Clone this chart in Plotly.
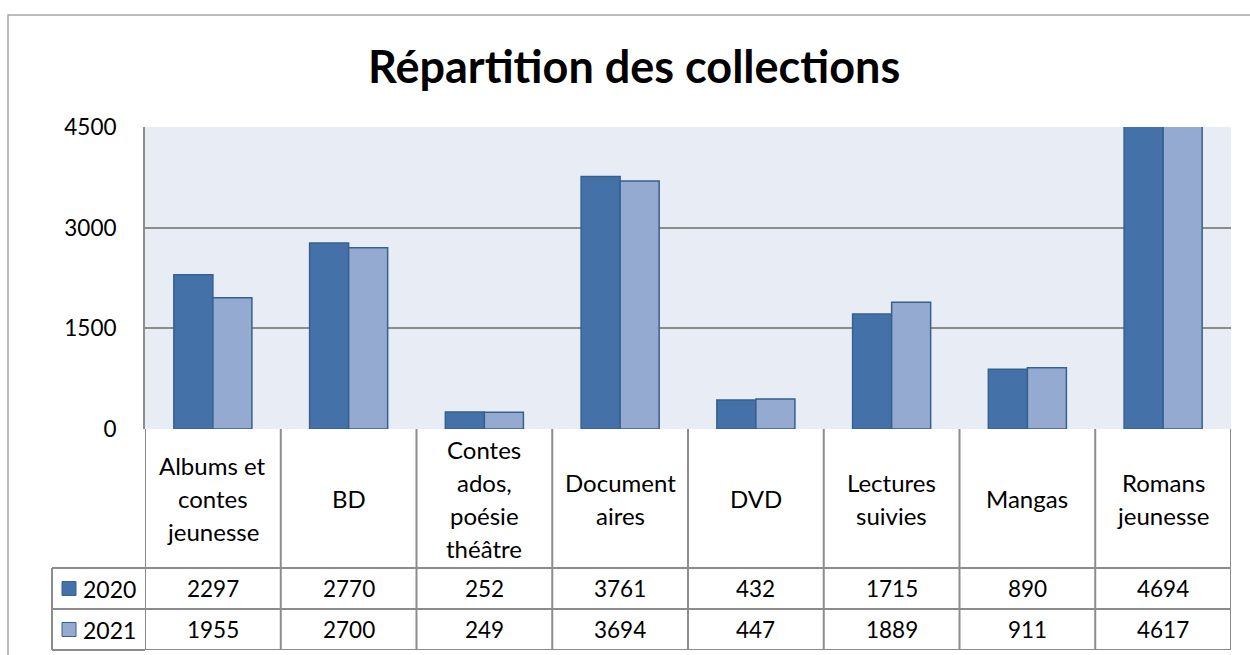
import plotly.graph_objects as go

# ---- data ----
categories = ["Albums et contes jeunesse", "BD", "Contes ados, poésie théâtre",
              "Documentaires", "DVD", "Lectures suivies", "Mangas", "Romans jeunesse"]
category_labels = [["Albums et", "contes", "jeunesse"], ["BD"],
                   ["Contes", "ados,", "poésie", "théâtre"], ["Document", "aires"],
                   ["DVD"], ["Lectures", "suivies"], ["Mangas"], ["Romans", "jeunesse"]]
series_names = ["2020", "2021"]
values_2020 = [2297, 2770, 252, 3761, 432, 1715, 890, 4694]
values_2021 = [1955, 2700, 249, 3694, 447, 1889, 911, 4617]
y_ticks = [0, 1500, 3000, 4500]
title_text = "Répartition des collections"

# ---- layout constants (pixels) ----
W, H = 1250, 655
PX0, PX1 = 145, 1231          # plot area left / right
PY_TOP, PY_BOT = 127, 429     # plot area top / bottom (from top of image)
T_BOT = 650                   # table bottom
ROW_EDGES = [0, 139, 180, 221]  # table rows, px below plot bottom
LEG_X0 = 52
FONT = "Lato"
GRID = "#8C8C8C"
C2020, C2021, EDGE = "#4472A8", "#95AAD0", "#36608F"
BG = "#E8EDF5"

def px(x):
    return x / W

def py(y):
    return (H - y) / H

fig = go.Figure()
colors = [C2020, C2021]
for name, vals, col in zip(series_names, [values_2020, values_2021], colors):
    fig.add_trace(go.Bar(x=categories, y=vals, name=name, marker_color=col,
                         marker_line_color=EDGE, marker_line_width=1.5,
                         showlegend=False, hoverinfo="x+y+name"))

# invisible trace to create the table subplot (x, y2)
fig.add_trace(go.Scatter(x=categories, y=[0] * len(categories), yaxis="y2",
                         mode="markers", marker_opacity=0, showlegend=False,
                         hoverinfo="skip"))

shapes = []
annotations = []

# plot background
shapes.append(dict(type="rect", xref="x domain", yref="y domain", x0=0, x1=1, y0=0, y1=1,
                   fillcolor=BG, line_width=0, layer="below"))
# outer chart border
shapes.append(dict(type="rect", xref="paper", yref="paper", x0=px(8), x1=1.2,
                   y0=-0.2, y1=py(15), line=dict(color="#A6A6A6", width=1.5),
                   fillcolor="rgba(0,0,0,0)", layer="below"))

n = len(categories)
# table vertical lines
for i in range(n + 1):
    shapes.append(dict(type="line", xref="x", yref="y2", x0=i - 0.5, x1=i - 0.5,
                       y0=ROW_EDGES[0], y1=ROW_EDGES[-1], line=dict(color=GRID, width=2)))
# table horizontal lines
for r in ROW_EDGES[1:]:
    shapes.append(dict(type="line", xref="x", yref="y2", x0=-0.5, x1=n - 0.5,
                       y0=r, y1=r, line=dict(color=GRID, width=2)))
# legend column lines
leg_rows = [PY_BOT + r for r in ROW_EDGES[1:]]
for yy in leg_rows:
    shapes.append(dict(type="line", xref="paper", yref="paper", x0=px(LEG_X0), x1=px(PX0),
                       y0=py(yy), y1=py(yy), line=dict(color=GRID, width=2)))
shapes.append(dict(type="line", xref="paper", yref="paper", x0=px(LEG_X0), x1=px(LEG_X0),
                   y0=py(leg_rows[0]), y1=py(leg_rows[-1]), line=dict(color=GRID, width=2)))

# category labels
LINE_H = 33
label_mid = (ROW_EDGES[0] + ROW_EDGES[1]) / 2
for cat, lines in zip(categories, category_labels):
    k = len(lines)
    for j, t in enumerate(lines):
        annotations.append(dict(xref="x", yref="y2", x=cat,
                                y=label_mid + (j - (k - 1) / 2) * LINE_H,
                                text=t, showarrow=False, xanchor="center", yanchor="middle",
                                font=dict(family=FONT, size=24, color="#000000")))

# values rows + legend keys
for r, (name, vals, col) in enumerate(zip(series_names, [values_2020, values_2021], colors)):
    ymid = (ROW_EDGES[r + 1] + ROW_EDGES[r + 2]) / 2
    for cat, v in zip(categories, vals):
        annotations.append(dict(xref="x", yref="y2", x=cat, y=ymid, text=str(v),
                                showarrow=False, xanchor="center", yanchor="middle",
                                font=dict(family=FONT, size=22.5, color="#000000")))
    ypix = PY_BOT + ymid
    shapes.append(dict(type="rect", xref="paper", yref="paper", x0=px(62), x1=px(76),
                       y0=py(ypix + 7), y1=py(ypix - 7), fillcolor=col,
                       line=dict(color=EDGE, width=1)))
    annotations.append(dict(xref="paper", yref="paper", x=px(81), y=py(ypix), text=name,
                            showarrow=False, xanchor="left", yanchor="middle",
                            font=dict(family=FONT, size=23, color="#000000")))

# title
annotations.append(dict(xref="paper", yref="paper", x=px(634), y=py(66), text="<b>" + title_text + "</b>",
                        showarrow=False, xanchor="center", yanchor="middle",
                        font=dict(family=FONT, size=45, color="#000000")))

fig.update_layout(
    template="none",
    width=W, height=H, autosize=False,
    margin=dict(l=0, r=0, t=0, b=0, pad=0, autoexpand=False),
    paper_bgcolor="#FFFFFF", plot_bgcolor="rgba(0,0,0,0)",
    barmode="group", bargap=0.425, bargroupgap=0,
    xaxis=dict(type="category", categoryorder="array", categoryarray=categories,
               domain=[px(PX0), px(PX1)], range=[-0.5, n - 0.5], automargin=False,
               showticklabels=False, showgrid=False, zeroline=False, showline=False,
               ticks="", fixedrange=True),
    yaxis=dict(domain=[py(PY_BOT), py(PY_TOP)], range=[0, 4500], tickvals=y_ticks,
               automargin=False,
               showgrid=True, gridcolor=GRID, gridwidth=1.5, zeroline=False,
               showline=True, linecolor=GRID, linewidth=2, ticks="",
               ticklabelstandoff=22,
               tickfont=dict(family=FONT, size=22.5, color="#000000"), fixedrange=True),
    yaxis2=dict(domain=[py(T_BOT), py(PY_BOT)], range=[ROW_EDGES[-1], ROW_EDGES[0]],
                visible=False, fixedrange=True, automargin=False),
    shapes=shapes, annotations=annotations,
    showlegend=False,
    font=dict(family=FONT),
)

fig.write_html("out.html", config={"displayModeBar": False},
               post_script="document.body.style.margin='0';document.body.style.padding='0';document.body.style.overflow='hidden';")
